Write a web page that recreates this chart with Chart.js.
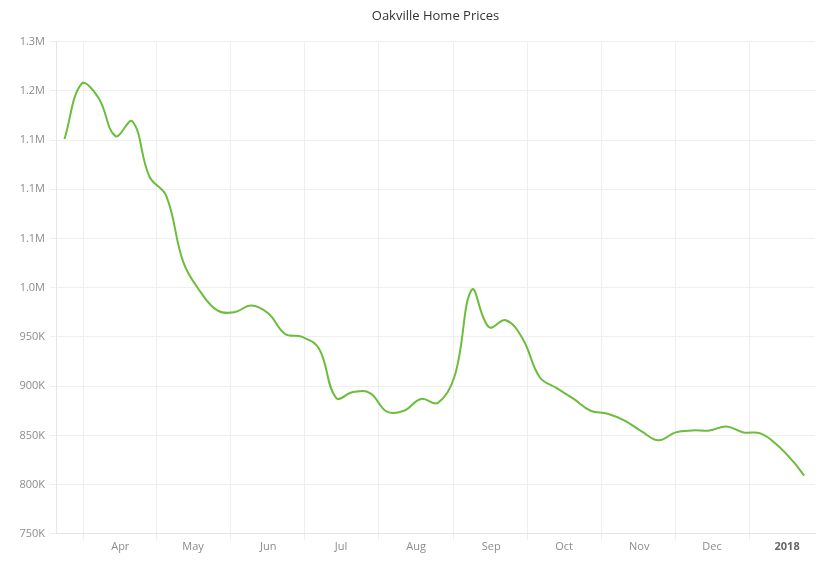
<!DOCTYPE html>
<html>
<head>
<meta charset="utf-8">
<script src="https://cdn.jsdelivr.net/npm/chart.js@4/dist/chart.umd.min.js"></script>
<style>
  body { margin: 0; background: #fff; }
  #wrap { width: 840px; height: 571px; }
</style>
</head>
<body>
<div id="wrap"><canvas id="chart"></canvas></div>
<script>
// weekly readings, Mar 2017 - Jan 2018
const weekDates = [
  '2017-03-09', '2017-03-16', '2017-03-23', '2017-03-30',
  '2017-04-06', '2017-04-13', '2017-04-20', '2017-04-27',
  '2017-05-04', '2017-05-11', '2017-05-18', '2017-05-25',
  '2017-06-01', '2017-06-08', '2017-06-15', '2017-06-22', '2017-06-29',
  '2017-07-06', '2017-07-13', '2017-07-20', '2017-07-27',
  '2017-08-03', '2017-08-10', '2017-08-17', '2017-08-24', '2017-08-31',
  '2017-09-07', '2017-09-14', '2017-09-21', '2017-09-28',
  '2017-10-05', '2017-10-12', '2017-10-19', '2017-10-26',
  '2017-11-02', '2017-11-09', '2017-11-16', '2017-11-23', '2017-11-30',
  '2017-12-07', '2017-12-14', '2017-12-21', '2017-12-28',
  '2018-01-04', '2018-01-08'
];
const prices = [
  1151000, 1207000, 1193000, 1154000,
  1169000, 1113000, 1093000, 1026000,
  996000, 977000, 975000, 982000,
  974000, 953000, 950000, 938000, 888000,
  894000, 893000, 874000, 875000,
  887000, 883000, 911000, 998000, 960000,
  967000, 948000, 909000, 898000,
  887000, 875000, 872000, 865000,
  854000, 845000, 853000, 855000, 855000,
  859000, 853000, 852000, 840000,
  822000, 809000
];
const tickDates = ['2017-04-01', '2017-05-01', '2017-06-01', '2017-07-01', '2017-08-01',
  '2017-09-01', '2017-10-01', '2017-11-01', '2017-12-01', '2018-01-01'];
const tickLabels = ['Apr', 'May', 'Jun', 'Jul', 'Aug', 'Sep', 'Oct', 'Nov', 'Dec', '2018'];
const xRange = ['2017-03-05T12:00:00Z', '2018-01-12T12:00:00Z'];

const toDay = s => Date.parse(s.length === 10 ? s + 'T00:00:00Z' : s) / 864e5;

const fmtPrice = v => v >= 1e6 ? (v / 1e6).toFixed(1) + 'M' : Math.round(v / 1e3) + 'K';

Chart.defaults.font.family = "'Open Sans', sans-serif";

const lastTick = tickLabels.length - 1;

new Chart(document.getElementById('chart'), {
  type: 'line',
  data: {
    datasets: [{
      label: 'Oakville',
      data: weekDates.map((d, i) => ({ x: toDay(d), y: prices[i] })),
      borderColor: '#6cbd3c',
      borderWidth: 2,
      pointRadius: 0,
      tension: 0.4,
      fill: false
    }]
  },
  options: {
    responsive: true,
    maintainAspectRatio: false,
    animation: false,
    layout: { padding: { left: 10, right: 25, top: 0, bottom: 18 } },
    plugins: {
      legend: { display: false },
      tooltip: { enabled: false },
      title: {
        display: true,
        text: 'Oakville Home Prices',
        fullSize: false,
        color: '#333',
        font: { size: 13, weight: 'normal' },
        padding: { top: 8, bottom: 18 }
      }
    },
    scales: {
      x: {
        type: 'linear',
        min: toDay(xRange[0]),
        max: toDay(xRange[1]),
        afterBuildTicks: scale => {
          scale.ticks = tickDates.map((d, i) => ({ value: toDay(d), major: i === lastTick }));
        },
        grid: { offset: true, color: '#efefef', tickLength: 6, tickColor: '#efefef' },
        border: { color: '#e6e6e6' },
        ticks: {
          autoSkip: false,
          maxRotation: 0,
          padding: 0,
          callback: (v, i) => tickLabels[i],
          color: ctx => ctx.index === lastTick ? '#666' : '#8c8c8c',
          font: ctx => ({ size: 11, weight: ctx.index === lastTick ? 'bold' : 'normal' })
        }
      },
      y: {
        min: 750000,
        max: 1250000,
        afterFit: scale => { scale.width = 46; },
        grid: { color: '#efefef', tickLength: 6, tickColor: '#efefef' },
        border: { color: '#e6e6e6' },
        ticks: {
          stepSize: 50000,
          padding: 5,
          color: '#8c8c8c',
          font: { size: 11 },
          callback: v => fmtPrice(v)
        }
      }
    }
  }
});
</script>
</body>
</html>
